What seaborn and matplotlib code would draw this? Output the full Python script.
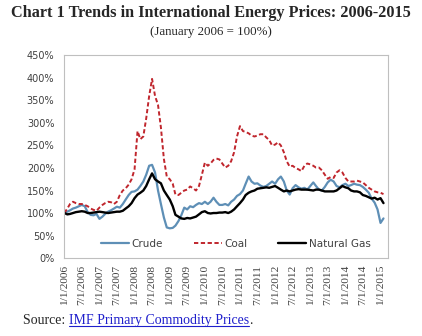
import numpy as np
import pandas as pd
import matplotlib
matplotlib.use("Agg")
import matplotlib.pyplot as plt
from matplotlib.ticker import FuncFormatter
from matplotlib.lines import Line2D
import seaborn as sns

# ---------------- data (monthly, Jan 2006 = 100) ----------------
dates = pd.date_range("2006-01-01", periods=110, freq="MS")

crude = [100, 103, 106, 110, 112, 115, 118, 115, 102, 96, 95, 98,
         87, 92, 98, 103, 106, 110, 114, 112, 120, 130, 140, 147,
         148, 152, 160, 170, 185, 205, 207, 190, 150, 120, 90, 68,
         66, 67, 72, 82, 95, 112, 108, 115, 113, 118, 122, 120,
         125, 120, 125, 134, 125, 118, 118, 120, 117, 125, 130, 138,
         142, 150, 165, 181, 170, 165, 166, 161, 158, 160, 165, 170,
         165, 175, 181, 170, 150, 141, 155, 162, 157, 154, 156, 152,
         160, 168, 160, 152, 150, 158, 168, 174, 170, 160, 157, 162,
         165, 160, 162, 165, 163, 162, 158, 152, 145, 132, 123, 108,
         78, 88]

coal = [100, 110, 120, 125, 122, 120, 120, 118, 115, 110, 107, 105,
        112, 118, 122, 125, 124, 120, 125, 140, 150, 155, 163, 175,
        197, 282, 264, 270, 310, 360, 398, 360, 340, 290, 220, 181,
        175, 165, 141, 140, 145, 150, 152, 159, 155, 150, 160, 185,
        212, 205, 210, 218, 221, 219, 210, 201, 205, 215, 235, 270,
        293, 282, 280, 277, 272, 270, 272, 275, 275, 268, 262, 250,
        252, 257, 250, 235, 215, 203, 205, 200, 197, 193, 205, 210,
        208, 205, 201, 201, 195, 185, 176, 180, 178, 190, 195, 190,
        178, 170, 170, 170, 172, 170, 168, 162, 156, 152, 148, 146,
        145, 142]

natural_gas = [100, 97, 98, 100, 102, 103, 104, 103, 100, 100, 101, 102,
               103, 102, 101, 100, 101, 102, 103, 103, 105, 110, 115, 122,
               133, 141, 145, 150, 160, 175, 188, 175, 170, 166, 150, 140,
               130, 115, 96, 92, 88, 87, 89, 88, 90, 92, 97, 102,
               104, 100, 99, 100, 100, 101, 101, 102, 100, 103, 108, 115,
               122, 130, 140, 145, 148, 150, 154, 155, 156, 157, 156, 158,
               160, 156, 152, 148, 150, 148, 150, 152, 153, 152, 152, 152,
               151, 150, 152, 152, 150, 148, 148, 148, 148, 150, 155, 160,
               157, 155, 150, 148, 148, 146, 140, 138, 135, 132, 134, 130,
               133, 122]

series_names = ["Crude", "Coal", "Natural Gas"]
series_colors = ["#5E8FB6", "#C0262D", "#000000"]

tick_dates = pd.date_range("2006-01-01", "2015-01-01", freq="6MS")
y_ticks = list(range(0, 451, 50))

df = pd.concat([
    pd.DataFrame({"date": dates, "value": crude, "series": "Crude"}),
    pd.DataFrame({"date": dates, "value": coal, "series": "Coal"}),
    pd.DataFrame({"date": dates, "value": natural_gas, "series": "Natural Gas"}),
])

# ---------------- figure ----------------
sns.set_style("white")
plt.rcParams["font.family"] = ["DejaVu Sans"]

fig = plt.figure(figsize=(4.22, 3.36), dpi=100)
ax = fig.add_axes([0.152, 0.232, 0.767, 0.603])

styles = {
    "Crude": dict(lw=1.6, ls="-"),
    "Coal": dict(lw=1.4, ls=(0, (2.2, 1.3))),
    "Natural Gas": dict(lw=1.7, ls="-"),
}
for name, col in zip(series_names, series_colors):
    sub = df[df["series"] == name]
    sns.lineplot(data=sub, x="date", y="value", ax=ax, color=col,
                 label=name, linewidth=styles[name]["lw"],
                 linestyle=styles[name]["ls"])

ax.set_xlim(pd.Timestamp("2005-12-30"), pd.Timestamp("2015-03-18"))
ax.set_ylim(0, 450)
ax.set_yticks(y_ticks)
ax.yaxis.set_major_formatter(FuncFormatter(lambda v, p: f"{int(v)}%"))
ax.set_xticks(tick_dates)
ax.set_xticklabels([f"{d.month}/1/{d.year}" for d in tick_dates],
                   rotation=90, fontfamily="Liberation Serif", fontsize=8.2,
                   color="#404040")
ax.set_xlabel("")
ax.set_ylabel("")
ax.tick_params(axis="y", labelsize=7, labelcolor="#404040", length=3,
               width=0.6, color="#BFBFBF", pad=4)
ax.tick_params(axis="x", length=3, width=0.6, color="#BFBFBF", pad=2)
for s in ax.spines.values():
    s.set_color("#BFBFBF")
    s.set_linewidth(0.8)
ax.grid(False)

leg = ax.legend(loc="lower center", bbox_to_anchor=(0.53, 0.0), ncol=3,
                frameon=False, fontsize=7.5, handlelength=2.7,
                columnspacing=3.0, handletextpad=0.2, borderaxespad=0.5)
for t in leg.get_texts():
    t.set_color("#404040")

# titles
fig.text(0.5, 0.985, "Chart 1 Trends in International Energy Prices: 2006-2015",
         ha="center", va="top", fontfamily="Liberation Serif",
         fontweight="bold", fontsize=11.7)
fig.text(0.5, 0.922, "(January 2006 = 100%)", ha="center", va="top",
         fontfamily="Liberation Serif", fontsize=9.3)

# source line
fs_src = 10.0
t1 = fig.text(0.055, 0.035, "Source: ", ha="left", va="baseline",
              fontfamily="Liberation Serif", fontsize=fs_src)
fig.canvas.draw()
r = fig.canvas.get_renderer()
bb1 = t1.get_window_extent(r)
x2 = bb1.x1 / fig.bbox.width
t2 = fig.text(x2, 0.035, "IMF Primary Commodity Prices", ha="left",
              va="baseline", fontfamily="Liberation Serif", fontsize=fs_src,
              color="#1F1FCC")
fig.canvas.draw()
bb2 = t2.get_window_extent(r)
x3 = bb2.x1 / fig.bbox.width
fig.text(x3, 0.035, ".", ha="left", va="baseline",
         fontfamily="Liberation Serif", fontsize=fs_src)
uy = 0.035 - 2.0 / fig.bbox.height
fig.add_artist(Line2D([x2, x3], [uy, uy], transform=fig.transFigure,
                      color="#1F1FCC", lw=0.8))

fig.savefig("out.png", dpi=100)
